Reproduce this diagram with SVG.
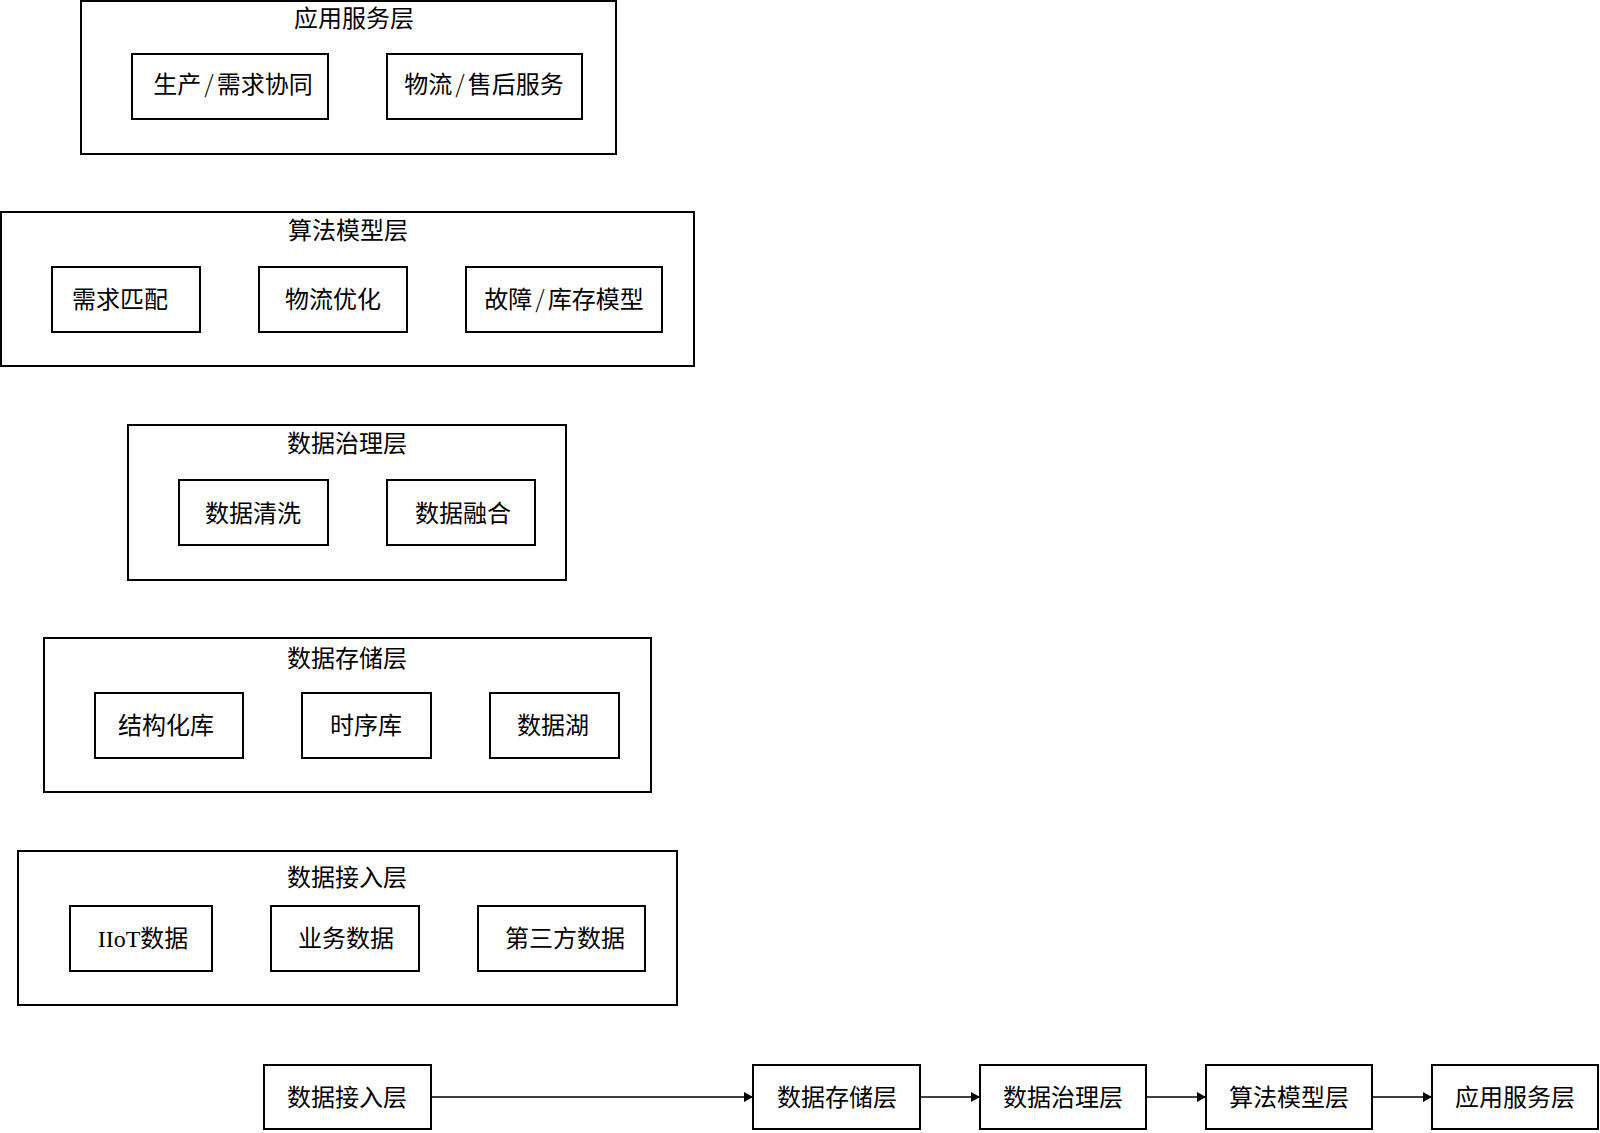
<svg xmlns="http://www.w3.org/2000/svg" width="1600" height="1133" viewBox="0 0 1600 1133">
<style>
.box{fill:#fff;stroke:#000;stroke-width:2}
.t{font-family:"Liberation Serif","Noto Sans CJK SC",serif;font-size:24px;fill:#000;text-anchor:middle}
.sl{font-family:"Noto Sans CJK SC",sans-serif;font-weight:300}
.edge{stroke:#000;stroke-width:1.3;fill:none}
</style>
<defs>
<marker id="ah" markerWidth="10" markerHeight="10" refX="9" refY="5" orient="auto" markerUnits="userSpaceOnUse">
<path d="M0,0 L9,5 L0,10 Z" fill="#000"/>
</marker>
</defs>
<rect width="1600" height="1133" fill="#fff"/>

<g id="layer-app">
<rect class="box" x="81" y="1" width="535" height="153"/>
<text class="t" x="354" y="27">应用服务层</text>
<g id="app-1"><rect class="box" x="132" y="54" width="196" height="65"/><text class="t" x="233" y="93">生产<tspan class="sl" dx="3">/</tspan><tspan dx="3">需求协同</tspan></text></g>
<g id="app-2"><rect class="box" x="387" y="54" width="195" height="65"/><text class="t" x="484" y="93">物流<tspan class="sl" dx="3">/</tspan><tspan dx="3">售后服务</tspan></text></g>
</g>

<g id="layer-algo">
<rect class="box" x="1" y="212" width="693" height="154"/>
<text class="t" x="348" y="239">算法模型层</text>
<g id="algo-1"><rect class="box" x="52" y="267" width="148" height="65"/><text class="t" x="120" y="308">需求匹配</text></g>
<g id="algo-2"><rect class="box" x="259" y="267" width="148" height="65"/><text class="t" x="333" y="308">物流优化</text></g>
<g id="algo-3"><rect class="box" x="466" y="267" width="196" height="65"/><text class="t" x="564" y="308">故障<tspan class="sl" dx="3">/</tspan><tspan dx="3">库存模型</tspan></text></g>
</g>

<g id="layer-gov">
<rect class="box" x="128" y="425" width="438" height="155"/>
<text class="t" x="347" y="452">数据治理层</text>
<g id="gov-1"><rect class="box" x="179" y="480" width="149" height="65"/><text class="t" x="253" y="522">数据清洗</text></g>
<g id="gov-2"><rect class="box" x="387" y="480" width="148" height="65"/><text class="t" x="463" y="522">数据融合</text></g>
</g>

<g id="layer-store">
<rect class="box" x="44" y="638" width="607" height="154"/>
<text class="t" x="347" y="667">数据存储层</text>
<g id="store-1"><rect class="box" x="95" y="693" width="148" height="65"/><text class="t" x="166" y="734">结构化库</text></g>
<g id="store-2"><rect class="box" x="302" y="693" width="129" height="65"/><text class="t" x="366" y="734">时序库</text></g>
<g id="store-3"><rect class="box" x="490" y="693" width="129" height="65"/><text class="t" x="553" y="734">数据湖</text></g>
</g>

<g id="layer-in">
<rect class="box" x="18" y="851" width="659" height="154"/>
<text class="t" x="347" y="886">数据接入层</text>
<g id="in-1"><rect class="box" x="70" y="906" width="142" height="65"/><text class="t" x="143" y="947">IIoT数据</text></g>
<g id="in-2"><rect class="box" x="271" y="906" width="148" height="65"/><text class="t" x="346" y="947">业务数据</text></g>
<g id="in-3"><rect class="box" x="478" y="906" width="167" height="65"/><text class="t" x="565" y="947">第三方数据</text></g>
</g>

<g id="connectors">
<line class="edge" x1="431" y1="1097" x2="753" y2="1097" marker-end="url(#ah)"/>
<line class="edge" x1="920" y1="1097" x2="980" y2="1097" marker-end="url(#ah)"/>
<line class="edge" x1="1146" y1="1097" x2="1206" y2="1097" marker-end="url(#ah)"/>
<line class="edge" x1="1372" y1="1097" x2="1432" y2="1097" marker-end="url(#ah)"/>
</g>

<g id="flow-in"><rect class="box" x="264" y="1065" width="167" height="64"/><text class="t" x="347" y="1106">数据接入层</text></g>
<g id="flow-store"><rect class="box" x="753" y="1065" width="167" height="64"/><text class="t" x="837" y="1106">数据存储层</text></g>
<g id="flow-gov"><rect class="box" x="980" y="1065" width="166" height="64"/><text class="t" x="1063" y="1106">数据治理层</text></g>
<g id="flow-algo"><rect class="box" x="1206" y="1065" width="166" height="64"/><text class="t" x="1289" y="1106">算法模型层</text></g>
<g id="flow-app"><rect class="box" x="1432" y="1065" width="166" height="64"/><text class="t" x="1515" y="1106">应用服务层</text></g>
</svg>
